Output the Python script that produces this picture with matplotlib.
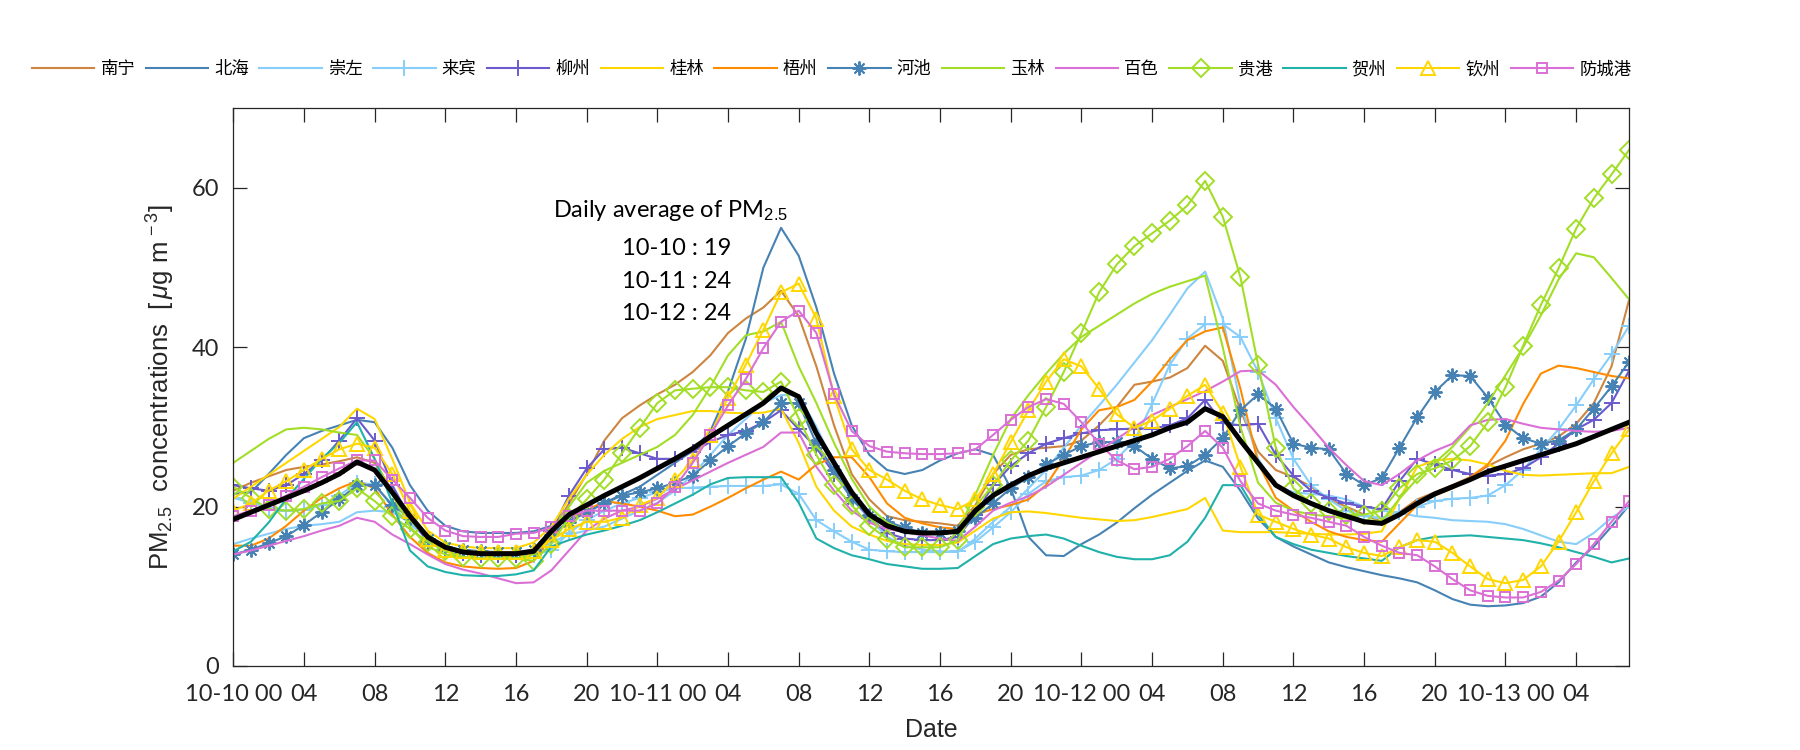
import matplotlib
matplotlib.use('Agg')
import matplotlib.pyplot as plt
import numpy as np

plt.rcParams['font.family'] = ['Lato', 'Noto Sans CJK SC', 'DejaVu Sans']
plt.rcParams['mathtext.fontset'] = 'custom'
plt.rcParams['mathtext.rm'] = 'Liberation Sans'
plt.rcParams['mathtext.it'] = 'Liberation Sans:italic'
plt.rcParams['axes.unicode_minus'] = False

# hourly PM2.5 from 10-10 00 to 10-13 07
hours = np.arange(80)

cities = ['南宁', '北海', '崇左', '来宾', '柳州', '桂林', '梧州',
          '河池', '玉林', '百色', '贵港', '贺州', '钦州', '防城港']

nanning = [22, 23, 23.8, 24.6, 25, 25.3, 25.7, 26.2, 25.5, 22,
           18.5, 16, 14.8, 14.4, 14.2, 14.2, 14.2, 14.5, 16.7, 20.4,
           24.1, 28.3, 31.1, 32.7, 34.1, 35.3, 36.9, 39, 41.8, 43.6,
           45, 47.1, 43.9, 37.6, 30.2, 24.1, 20.9, 18.8, 18.3, 18.1,
           17.9, 17.6, 20.2, 24.1, 26.5, 27.2, 27.4, 27.6, 28.3, 30.2,
           32.5, 35.3, 35.7, 36.2, 37.4, 40.2, 38.3, 32.1, 26.9, 24.6,
           23.7, 22.5, 20.9, 20, 19, 18.1, 19.3, 20.9, 21.8, 22.7,
           23.7, 25.1, 26.2, 27.2, 27.9, 28.8, 30.4, 33, 37.6, 46]
beihai = [21.6, 21.8, 24.1, 26.5, 28.6, 29.5, 30.2, 30.9, 30.6, 27.4,
          22.7, 19.5, 17.6, 16.9, 16.7, 16.7, 16.7, 16.9, 17.6, 18.5,
          19.5, 20.5, 21.5, 22.5, 24, 25.5, 27, 29.5, 34.5, 41,
          50, 55, 51.5, 45, 36.7, 30.2, 26.5, 24.6, 24.1, 24.6,
          25.8, 26.7, 27.2, 26.5, 22.3, 16.2, 13.9, 13.8, 15.3, 16.5,
          18, 19.8, 21.5, 23, 24.5, 25.8, 25, 22, 18.5, 16.2,
          15, 14, 13, 12.4, 11.9, 11.4, 11, 10.5, 9.5, 8.4,
          7.7, 7.5, 7.6, 7.9, 8.7, 10.5, 13, 15, 17.5, 20.2]
chongzuo = [15.3, 16, 16.6, 17.2, 17.6, 17.8, 18.1, 19.3, 19.5, 19.3,
            18, 16.2, 15, 14.4, 14.1, 14, 14, 14.3, 15.5, 16.5,
            17, 17.5, 18.5, 19.5, 20.5, 22, 24, 26.5, 29, 31,
            33, 34, 34, 30, 25.5, 21, 18.5, 16.2, 15.1, 14.6,
            14.4, 14.3, 16, 18.1, 20, 22.3, 24.6, 27.4, 30.2, 32.7,
            35.3, 38.1, 40.9, 44.1, 47.4, 49.5, 43.6, 32.9, 26, 22.7,
            21.8, 21.6, 21.4, 20.9, 20, 19.5, 19.2, 18.8, 18.6, 18.3,
            18.2, 18.1, 17.8, 17.2, 16.4, 15.6, 15.3, 16.7, 18.6, 20]
laibin = [21.1, 20.5, 19.8, 19.5, 19.6, 20.2, 21.4, 23, 22.8, 20,
          17.8, 16, 14.9, 14.3, 14.1, 14, 14, 13.9, 14.6, 16.7,
          18.3, 19.5, 20.4, 21.1, 21.8, 22.3, 22.4, 22.5, 22.6, 22.6,
          22.6, 22.8, 21.6, 18.3, 16.9, 15.6, 14.6, 14.4, 14.3, 14.3,
          14.3, 14.4, 15.6, 17.4, 19.3, 21.6, 23.2, 23.7, 23.9, 24.6,
          26, 28.3, 32.9, 37.8, 41.1, 42.9, 42.9, 41.3, 36.9, 31.1,
          26, 22.7, 20.9, 19.5, 18.8, 18.6, 19.3, 20, 20.7, 21,
          21.1, 21.4, 22.7, 24.6, 27.2, 29.7, 32.7, 36, 39.1, 42.7]
liuzhou = [22.7, 22.3, 22, 22.7, 24.1, 25.8, 28.3, 31.1, 28.3, 22.7,
           18.6, 15.6, 14.6, 14.2, 13.9, 13.9, 13.9, 14.2, 16.9, 21.4,
           24.8, 27.2, 27.4, 26.7, 26, 26, 26.9, 28.1, 29, 29.5,
           30.6, 32.1, 29.7, 27.4, 24.1, 21.1, 18.6, 16.7, 16, 15.8,
           15.8, 16.2, 19, 22.7, 25.1, 26.7, 27.9, 28.6, 29.2, 29.6,
           29.7, 29.8, 29.8, 30.2, 31.1, 33.4, 30.5, 30.2, 30.4, 26.5,
           23.9, 22, 21.1, 20.4, 20, 19.7, 23.2, 26, 25.3, 24.6,
           24.1, 23.9, 24.1, 24.8, 26.2, 27.9, 29.7, 30.9, 33, 37.1]
guilin = [21, 22.5, 24, 25.5, 27, 28.5, 30, 32.3, 31, 26,
          20.5, 17, 15.5, 15, 14.8, 14.8, 14.8, 15.5, 17.5, 21,
          24, 26.5, 28.5, 30, 31, 31.5, 32, 32, 31.8, 31.7,
          31.8, 32.3, 28, 22.5, 19.5, 17.5, 16.5, 15.7, 15.3, 15.2,
          15.2, 15.5, 17, 18.5, 19.3, 19.4, 19.2, 18.9, 18.6, 18.4,
          18.2, 18.3, 18.7, 19.2, 19.7, 21.1, 17, 16.8, 16.8, 16.8,
          16.7, 16.6, 16.5, 16.5, 16.6, 16.9, 21, 25, 25.8, 26,
          25.8, 25.3, 24.5, 24, 23.9, 24, 24.1, 24.2, 24.2, 25]
wuzhou = [15.1, 15.1, 16, 17.6, 19.5, 21.1, 22.3, 23.2, 22.3, 19,
          16.2, 14.2, 13, 12.5, 12.3, 12.2, 12.3, 13.2, 16.2, 18.1,
          19.5, 20.7, 20.4, 20, 19.5, 18.8, 19, 20, 21.1, 22.3,
          23.4, 24.4, 23.4, 25.3, 26.2, 26.2, 23.7, 20.4, 18.6, 17.9,
          17.4, 17.2, 19, 19.7, 20.2, 20.9, 22.7, 26, 29.7, 32.1,
          32.5, 33.4, 35.7, 38.5, 40.9, 42, 42.5, 34.8, 25.5, 21.1,
          19.5, 18.1, 16.9, 16.2, 15.8, 15.6, 17.9, 20.2, 21.4, 22.3,
          23.7, 25.3, 28.3, 32.9, 36.7, 37.7, 37.4, 36.9, 36.4, 36.1]
hechi = [14, 14.6, 15.4, 16.3, 17.7, 19.3, 20.9, 22.7, 22.7, 20.2,
         18.6, 16, 14.9, 14.6, 14.4, 14.3, 14.3, 14.6, 16.5, 18.1,
         19.3, 20.4, 21.4, 21.8, 22.3, 23, 23.9, 25.8, 27.6, 29.2,
         30.6, 33, 33, 27.9, 24.6, 20.9, 19, 18.1, 17.4, 16.7,
         16.7, 16.9, 18.6, 20.4, 22.3, 23.7, 25.3, 26.5, 27.6, 28.1,
         28.1, 27.6, 26, 24.8, 25.1, 26.5, 28.6, 32.1, 34.1, 32.3,
         27.9, 27.4, 27.2, 24.1, 22.7, 23.6, 27.4, 31.2, 34.4, 36.5,
         36.4, 33.7, 30.3, 28.6, 27.9, 28.3, 29.7, 32.3, 35.1, 38.2]
yulin = [25.5, 27, 28.5, 29.7, 29.9, 29.7, 29.3, 29, 26, 21.5,
         17.5, 15, 14, 13.6, 13.5, 13.5, 13.5, 14, 16.5, 20,
         23, 24.5, 25.5, 26.5, 27.5, 29, 31.5, 35, 39, 41.5,
         42, 43.2, 37.6, 33, 28, 23.5, 20, 18, 17, 16.8,
         16.8, 17, 21.5, 26.5, 31, 34, 36.7, 39.2, 41.3, 42.7,
         44.1, 45.5, 46.7, 47.6, 48.3, 49, 40, 30, 23, 20.5,
         19.5, 19, 18.8, 18.5, 18.3, 18.2, 21, 23.5, 25.5, 27.5,
         30, 33, 36.5, 40, 44, 48.5, 51.8, 51.3, 48.7, 46]
baise = [14, 14.5, 15.1, 15.7, 16.3, 17, 17.6, 18.6, 18.1, 16.5,
         15.3, 14, 12.8, 12.1, 11.6, 11, 10.4, 10.5, 12, 14.5,
         17, 18.5, 19.5, 20, 21, 22.2, 23.3, 24.4, 25.5, 26.5,
         27.5, 29.3, 29.3, 25, 22, 19.5, 18, 17.2, 16.8, 16.4,
         16, 15.7, 17.5, 19.5, 20.5, 21.3, 22.5, 24, 25.5, 27,
         28.5, 30, 31.5, 32.5, 33.5, 34.5, 35.7, 37, 37.1, 35.3,
         32.5, 30, 27.4, 25.2, 23.2, 22.7, 24.1, 25.8, 27, 27.9,
         30.2, 30.9, 31, 30.4, 29.9, 29.7, 29.5, 29.4, 29.5, 29.9]
guigang = [22.5, 21.1, 19.7, 19.5, 19.7, 20.4, 20.7, 22.3, 20.7, 18.8,
           17.2, 15.6, 14.4, 13.7, 13.5, 13.5, 13.5, 13.2, 15.3, 18.6,
           20.9, 23.4, 26.7, 29.9, 33, 34.6, 34.8, 35, 35, 34.6,
           34.4, 35.7, 31.1, 26.5, 22.7, 20.2, 17.6, 16, 14.9, 14.9,
           14.9, 15.8, 20, 22.7, 25.8, 28.3, 32.5, 36.9, 41.8, 46.9,
           50.4, 52.7, 54.3, 55.9, 57.8, 60.9, 56.4, 48.8, 37.8, 27.4,
           22.3, 20.4, 19.5, 19, 19, 19.5, 22.3, 24.1, 24.8, 25.8,
           27.6, 30.6, 35, 40.2, 45.3, 49.9, 54.9, 58.7, 61.7, 64.8]
hezhou = [14.4, 15.6, 18, 21, 23.5, 26, 28, 30.6, 26, 20.5,
          14.5, 12.5, 11.8, 11.4, 11.3, 11.3, 11.5, 12, 15, 15.8,
          16.5, 17, 17.6, 18.3, 19.3, 20.4, 21.5, 22.8, 23.6, 23.7,
          23.7, 23.7, 20.5, 16, 14.8, 13.9, 13.4, 12.8, 12.5, 12.2,
          12.2, 12.3, 13.8, 15.3, 16, 16.3, 16.5, 16, 15.1, 14.3,
          13.7, 13.4, 13.4, 13.9, 15.6, 18.6, 22.7, 22.7, 19, 16.2,
          15.3, 14.6, 14.2, 13.8, 13.5, 13.2, 14.9, 15.8, 16.2, 16.3,
          16.4, 16.2, 16, 15.8, 15.4, 14.9, 14.3, 13.7, 13, 13.5]
qinzhou = [19.5, 20.4, 22, 23.2, 24.6, 26, 27.2, 27.9, 27.4, 24.1,
           19.5, 16, 14.6, 14.4, 14.3, 14.3, 14.3, 14.4, 15.8, 17.2,
           18.1, 18.1, 18.6, 20.2, 21.1, 23.4, 25.8, 29, 33.7, 37.8,
           42.2, 46.9, 48, 43.6, 33.9, 27.2, 24.6, 23.4, 22, 20.9,
           20.2, 19.7, 20.9, 24.1, 28.1, 32.1, 35.7, 38.5, 37.6, 34.8,
           31.6, 29.9, 30.8, 32.3, 33.9, 35.3, 31.8, 25, 19, 18.1,
           17.2, 16.5, 16, 14.9, 14.2, 13.8, 14.9, 15.8, 15.6, 14.2,
           12.5, 10.9, 10.4, 10.8, 12.5, 15.6, 19.3, 23.2, 26.7, 29.7]
fangchenggang = [18.8, 19.5, 20.2, 21.4, 22.5, 23.7, 24.8, 25.8, 25.8, 23.4,
                 21.1, 18.6, 17, 16.3, 16.2, 16.2, 16.6, 16.7, 17.4, 18.8,
                 19.5, 19.5, 19.5, 19.5, 20.4, 22.5, 25.5, 29, 32.7, 36,
                 39.9, 43.2, 44.6, 41.8, 34.1, 29.5, 27.6, 26.9, 26.7, 26.6,
                 26.6, 26.7, 27.2, 29, 30.9, 32.5, 33.5, 32.9, 30.6, 27.9,
                 25.8, 24.7, 25, 26, 27.6, 29.5, 27.4, 23.2, 20.4, 19.5,
                 19, 18.6, 18.1, 17.6, 16.2, 15.1, 14.2, 13.9, 12.5, 10.9,
                 9.5, 8.8, 8.6, 8.6, 9.3, 10.7, 12.8, 15.3, 18.1, 20.7]
regional_mean = [18.4, 19.3, 20.2, 21.1, 22, 23, 24.1, 25.6, 24.6, 21.8,
                 18.8, 16.2, 14.9, 14.3, 14.1, 14.1, 14.1, 14.4, 16.9, 19,
                 20.2, 21.4, 22.5, 23.6, 24.8, 26, 27.3, 28.8, 30.2, 31.6,
                 33, 34.9, 33.8, 29.2, 25.5, 21.8, 19, 17.6, 16.9, 16.7,
                 16.7, 16.9, 19.5, 21.4, 22.7, 23.9, 24.8, 25.5, 26.2, 26.9,
                 27.6, 28.3, 29, 29.9, 30.6, 32.3, 31.3, 28.3, 25.5, 22.7,
                 21.4, 20.4, 19.5, 18.8, 18.1, 17.9, 19, 20.4, 21.6, 22.5,
                 23.4, 24.4, 25.1, 25.8, 26.5, 27.2, 27.9, 28.8, 29.7, 30.6]

xtick_pos = list(range(0, 80, 4))
xtick_labels = ['10-10 00', '04', '08', '12', '16', '20',
                '10-11 00', '04', '08', '12', '16', '20',
                '10-12 00', '04', '08', '12', '16', '20',
                '10-13 00', '04']
daily_avg = [('10-10', 19), ('10-11', 24), ('10-12', 24)]

series = [nanning, beihai, chongzuo, laibin, liuzhou, guilin, wuzhou,
          hechi, yulin, baise, guigang, hezhou, qinzhou, fangchenggang]
colors = ['#CD853F', '#4682B4', '#87CEFA', '#87CEFA', '#6A5ACD', '#FFD700',
          '#FF8C00', '#4682B4', '#A2DE26', '#DA70D6', '#A2DE26', '#20B2AA',
          '#FFD700', '#DA70D6']
markers = [None, None, None, '+', '+', None, None,
           (8, 2, 0), None, None, 'D', None, '^', 's']
msizes = {'+': 11, (8, 2, 0): 10, 'D': 9.5, '^': 10.5, 's': 7.5}

label_font = ['Liberation Sans', 'DejaVu Sans']

fig = plt.figure(figsize=(18, 7.5), dpi=100)
ax = fig.add_axes([0.1296, 0.112, 0.7755, 0.7436])

for name, vals, c, m in zip(cities, series, colors, markers):
    kw = {}
    if m is not None:
        kw = dict(marker=m, markersize=msizes[m], markerfacecolor='none',
                  markeredgecolor=c, markeredgewidth=1.4)
    ax.plot(hours, vals, color=c, lw=1.5, label=name, **kw)

ax.plot(hours, regional_mean, color='black', lw=3.6, zorder=5,
        label='_nolegend_')

ax.set_xlim(0, 79)
ax.set_ylim(0, 70)
ax.set_xticks(xtick_pos)
ax.set_xticklabels(xtick_labels)
ax.set_yticks([0, 20, 40, 60])
ax.tick_params(direction='in', top=True, right=True, length=10, width=0.9,
               labelsize=17, colors='#262626')
ax.tick_params(axis='x', pad=13)
ax.tick_params(axis='y', pad=10)
for sp in ax.spines.values():
    sp.set_color('#262626')
    sp.set_linewidth(0.9)

ax.set_xlabel('Date', fontsize=18, color='#262626', family=label_font)
ax.set_ylabel('PM$_{2.5}$  concentrations  [$\\,\\mu$g m$^{\\,-3}$]',
              fontsize=18.5, color='#262626', family=label_font)
ax.yaxis.set_label_coords(-0.040, 0.5)
ax.xaxis.set_label_coords(0.5, -0.093)

# daily average annotation
ax.text(18.1, 56.3, 'Daily average of PM$_{2.5}$', fontsize=17,
        va='baseline', ha='left', color='black')
for i, (day, v) in enumerate(daily_avg):
    ax.text(22.0, 51.6 - 4.1 * i, f'{day} : {v}', fontsize=17,
            va='baseline', ha='left', color='black')

fig.legend(loc='center', bbox_to_anchor=(0.462, 0.908), ncol=14,
           frameon=False, fontsize=12.5, handlelength=3.6,
           handletextpad=0.35, columnspacing=0.6)

fig.savefig('out.png', dpi=100, facecolor='white')
